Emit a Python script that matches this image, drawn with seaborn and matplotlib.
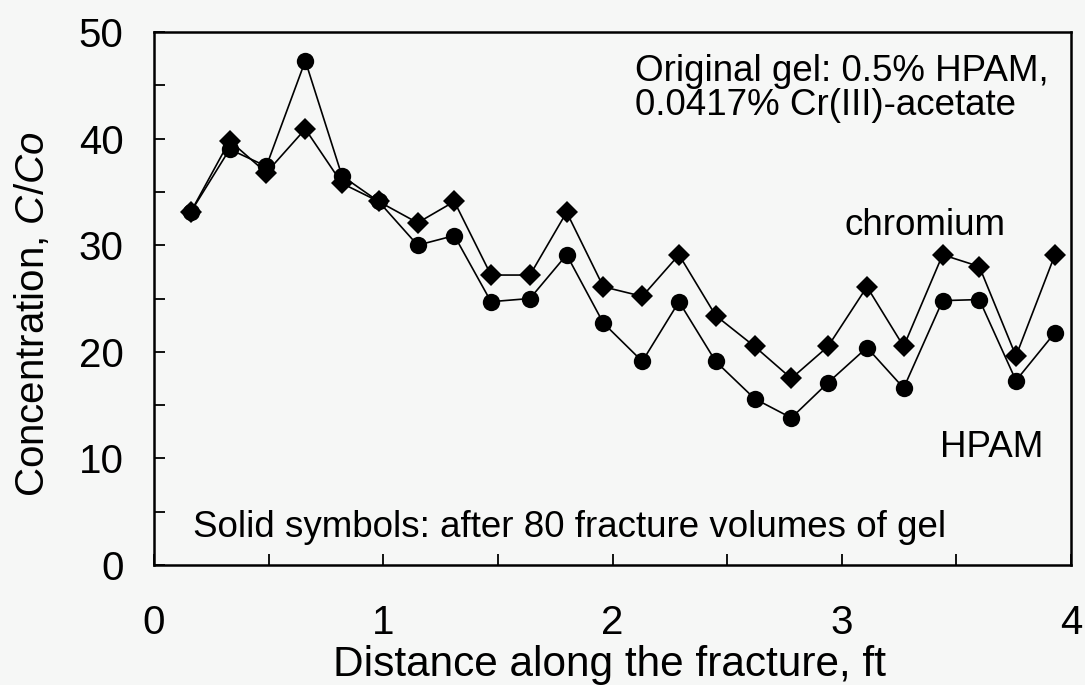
import numpy as np
import pandas as pd
import matplotlib
matplotlib.use("Agg")
import matplotlib.pyplot as plt
from matplotlib.ticker import MultipleLocator
import seaborn as sns

# ---- data ----
distance_ft = [0.16, 0.33, 0.49, 0.66, 0.82, 0.98, 1.15, 1.31, 1.47, 1.64, 1.80, 1.96,
               2.13, 2.29, 2.45, 2.62, 2.78, 2.94, 3.11, 3.27, 3.44, 3.60, 3.76, 3.93]
chromium = [33.1, 39.8, 36.8, 40.9, 35.8, 34.1, 32.1, 34.1, 27.2, 27.2, 33.1, 26.1,
            25.2, 29.1, 23.4, 20.5, 17.5, 20.5, 26.1, 20.5, 29.1, 28.0, 19.6, 29.1]
hpam = [33.1, 39.0, 37.4, 47.3, 36.5, 34.1, 30.0, 30.9, 24.7, 25.0, 29.1, 22.7,
        19.1, 24.7, 19.1, 15.6, 13.8, 17.1, 20.4, 16.6, 24.8, 24.9, 17.3, 21.8]
x_ticklabels = ["0", "1", "2", "3", "4"]
y_ticklabels = ["0", "10", "20", "30", "40", "50"]

sns.set_theme(style="ticks")
plt.rcParams["font.family"] = ["Liberation Sans", "DejaVu Sans"]
plt.rcParams["mathtext.fontset"] = "custom"
plt.rcParams["mathtext.rm"] = "Liberation Sans"
plt.rcParams["mathtext.it"] = "Liberation Sans:italic"
plt.rcParams["text.color"] = "black"
plt.rcParams["axes.labelcolor"] = "black"

bg = "#f6f7f6"
fig = plt.figure(figsize=(10.85, 6.85), dpi=100, facecolor=bg)
ax = fig.add_axes([154 / 1085, 1 - 565 / 685, (1071 - 154) / 1085, (565 - 32) / 685])
ax.set_facecolor(bg)

df_cr = pd.DataFrame({"x": distance_ft, "y": chromium})
df_hp = pd.DataFrame({"x": distance_ft, "y": hpam})
sns.lineplot(data=df_cr, x="x", y="y", ax=ax, color="black", linewidth=1.2,
             marker="D", markersize=11, markeredgewidth=0, sort=False, estimator=None)
sns.lineplot(data=df_hp, x="x", y="y", ax=ax, color="black", linewidth=1.2,
             marker="o", markersize=12.5, markeredgewidth=0, sort=False, estimator=None)

ax.set_xlim(0, 4)
ax.set_ylim(0, 50)
ax.set_xticks(range(len(x_ticklabels)))
ax.set_xticklabels(x_ticklabels)
ax.set_yticks([10 * i for i in range(len(y_ticklabels))])
ax.set_yticklabels(y_ticklabels)
ax.xaxis.set_minor_locator(MultipleLocator(0.5))
ax.yaxis.set_minor_locator(MultipleLocator(5))

for s in ax.spines.values():
    s.set_color("black")
    s.set_linewidth(1.8)

ax.tick_params(axis="x", which="both", direction="in", length=8, width=1.3,
               colors="black", labelsize=29, pad=28, top=False)
ax.tick_params(axis="y", which="both", direction="in", length=8, width=1.3,
               colors="black", labelsize=29, pad=22, right=False)

ax.set_xlabel("Distance along the fracture, ft", fontsize=30.5, color="black")
ax.xaxis.set_label_coords(0.497, -0.208)
ax.xaxis.label.set_va("baseline")
ax.set_ylabel("Concentration, $\\mathit{C/Co}$", fontsize=29, color="black")
ax.yaxis.set_label_coords(-0.132, 0.47)
ax.yaxis.label.set_va("center")

tsize = 26.5
ax.text(2.098, 45.4, "Original gel: 0.5% HPAM,", fontsize=tsize, va="baseline", ha="left")
ax.text(2.098, 42.2, "0.0417% Cr(III)-acetate", fontsize=tsize, va="baseline", ha="left")
ax.text(3.014, 30.96, "chromium", fontsize=tsize, va="baseline", ha="left")
ax.text(3.429, 10.13, "HPAM", fontsize=tsize, va="baseline", ha="left")
ax.text(0.170, 2.63, "Solid symbols: after 80 fracture volumes of gel", fontsize=tsize,
        va="baseline", ha="left")

fig.savefig("out.png", dpi=100, facecolor=bg)
